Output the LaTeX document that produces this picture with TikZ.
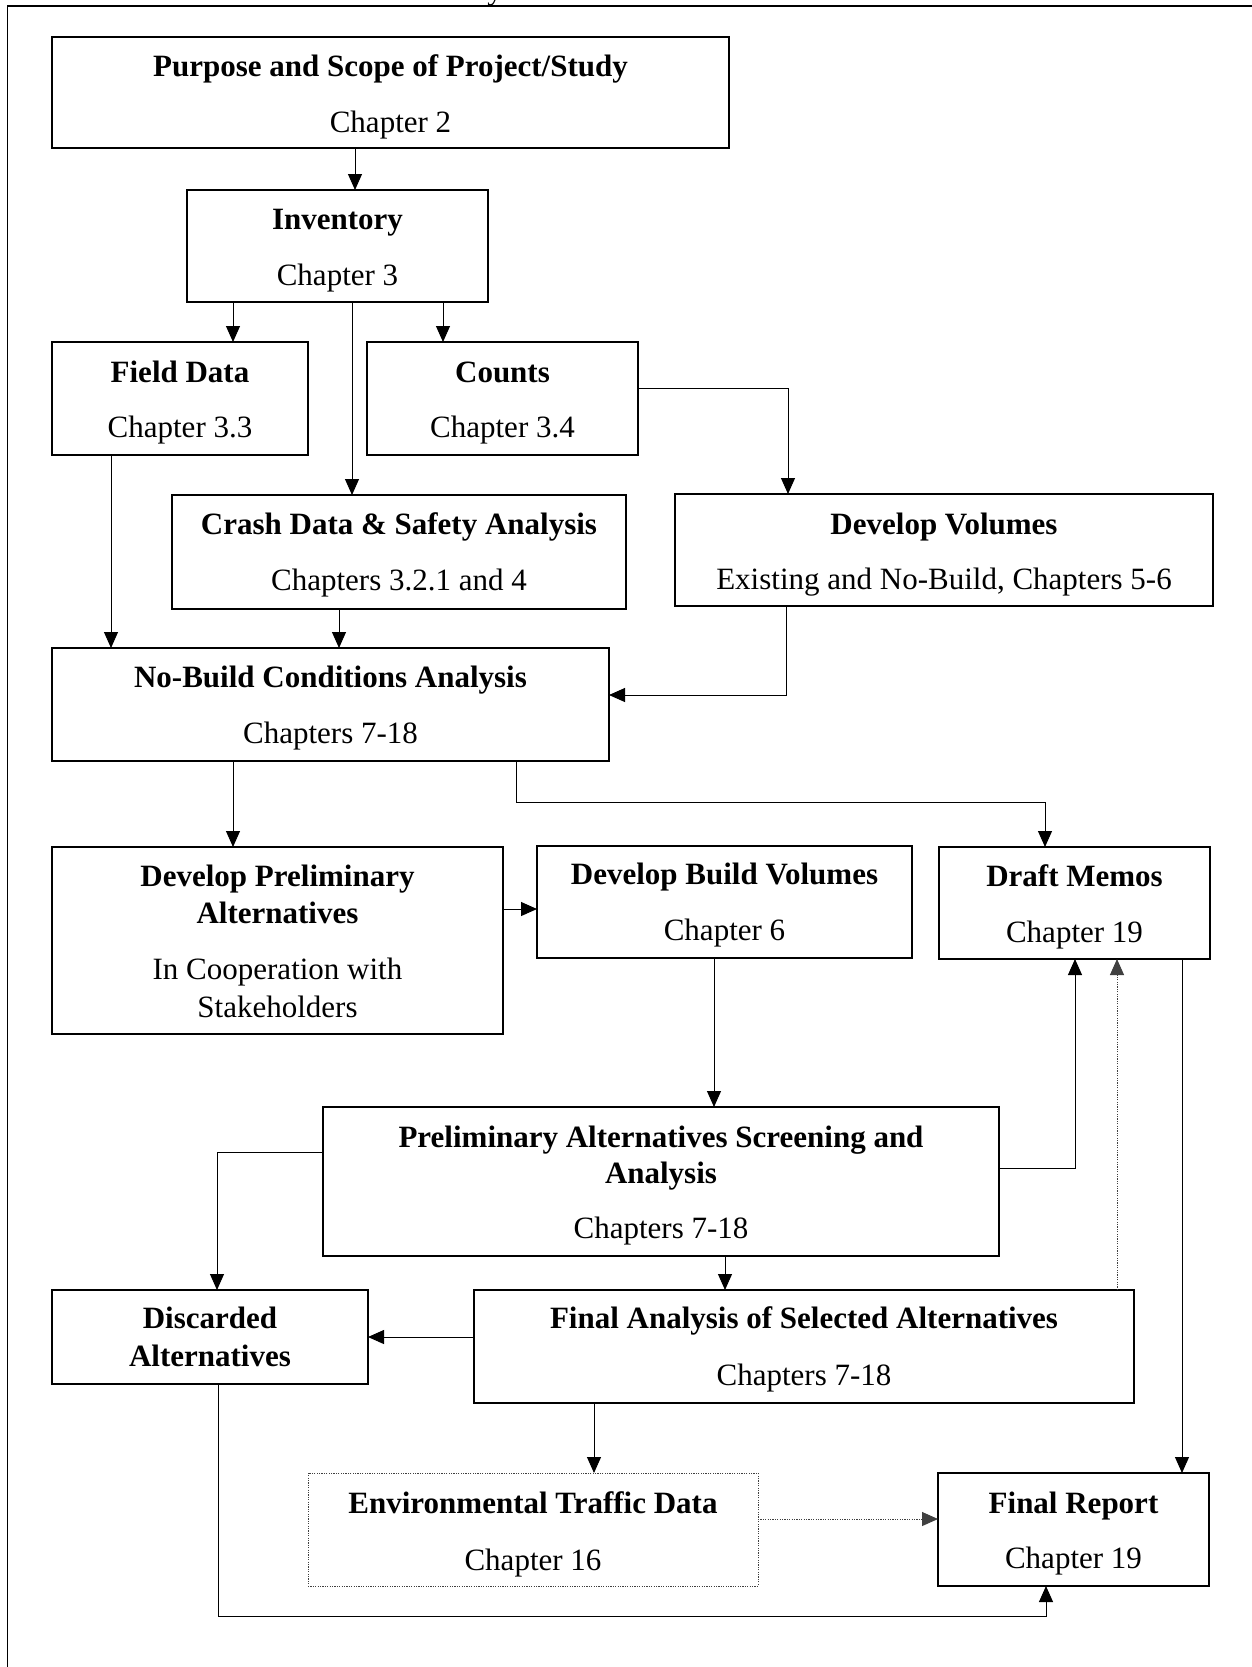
\documentclass[tikz,border=0pt]{standalone}
\usepackage{fontspec}
\setmainfont{Liberation Serif}
\usetikzlibrary{arrows.meta}
\newcommand\mkbox[6][]{%
  \pgfmathsetmacro\bxw{(#5-#3)*0.5}%
  \pgfmathsetmacro\bxh{(#6-#4)*0.5}%
  \node[boxst,#1,minimum width=\bxw pt,minimum height=\bxh pt] (#2) at ({(#3+#5)/2},{(#4+#6)/2}) {};}
\tikzset{
  boxst/.style={draw, rectangle, line width=0.6pt, inner sep=0pt, outer sep=0pt},
  dotbox/.style={draw=black!75, dash pattern=on 0.6pt off 0.6pt, line width=0.5pt},
  tb/.style={anchor=base, inner sep=0pt, font=\fontsize{15.5}{18.6}\selectfont\bfseries},
  tn/.style={anchor=base, inner sep=0pt, font=\fontsize{15.5}{18.6}\selectfont},
  arr/.style={-{Triangle[length=8pt,width=7pt]}, line width=0.5pt},
  dotln/.style={draw=black!75, dash pattern=on 0.6pt off 0.6pt},
}
\begin{document}
\begin{tikzpicture}[x=0.5pt,y=-0.5pt]
\useasboundingbox (0,0) rectangle (1252,1667);
% frame
\draw[line width=0.8pt] (7.5,1667) -- (7.5,6) -- (1252,6);
\begin{scope}
\clip (0,0) rectangle (1252,1667);
\node[tn] (cutoff) at (495,-1) {y};
\end{scope}
% boxes
\mkbox{purpose}{52}{37}{729}{148}
\mkbox{inventory}{187}{190}{488}{302}
\mkbox{field}{52}{342}{308}{455}
\mkbox{counts}{367}{342}{638}{455}
\mkbox{crash}{172}{495}{626}{609}
\mkbox{devvol}{675}{494}{1213}{606}
\mkbox{nobuild}{52}{648}{609}{761}
\mkbox{devprelim}{52}{847}{503}{1034}
\mkbox{devbuild}{537}{846}{912}{958}
\mkbox{draft}{939}{847}{1210}{959}
\mkbox{prelimscr}{323}{1107}{999}{1256}
\mkbox{discarded}{52}{1290}{368}{1384}
\mkbox{finalan}{474}{1290}{1134}{1403}
\mkbox[dotbox]{env}{308}{1473}{758}{1586}
\mkbox{finalrep}{938}{1473}{1209}{1586}
% texts
\node[tb] (purpose-t) at (purpose.center |- 0,76) {Purpose and Scope of Project/Study};
\node[tn] (purpose-c) at (purpose.center |- 0,132) {Chapter 2};
\node[tb] (inventory-t) at (inventory.center |- 0,229) {Inventory};
\node[tn] (inventory-c) at (inventory.center |- 0,285) {Chapter 3};
\node[tb] (field-t) at (field.center |- 0,382) {Field Data};
\node[tn] (field-c) at (field.center |- 0,437) {Chapter 3.3};
\node[tb] (counts-t) at (counts.center |- 0,382) {Counts};
\node[tn] (counts-c) at (counts.center |- 0,437) {Chapter 3.4};
\node[tb] (crash-t) at (crash.center |- 0,534) {Crash Data \& Safety Analysis};
\node[tn] (crash-c) at (crash.center |- 0,590) {Chapters 3.2.1 and 4};
\node[tb] (devvol-t) at (devvol.center |- 0,534) {Develop Volumes};
\node[tn] (devvol-c) at (devvol.center |- 0,589) {Existing and No-Build, Chapters 5-6};
\node[tb] (nobuild-t) at (nobuild.center |- 0,687) {No-Build Conditions Analysis};
\node[tn] (nobuild-c) at (nobuild.center |- 0,743) {Chapters 7-18};
\node[tb] (devprelim-t1) at (devprelim.center |- 0,886) {Develop Preliminary};
\node[tb] (devprelim-t2) at (devprelim.center |- 0,923) {Alternatives};
\node[tn] (devprelim-c1) at (devprelim.center |- 0,979) {In Cooperation with};
\node[tn] (devprelim-c2) at (devprelim.center |- 0,1017) {Stakeholders};
\node[tb] (devbuild-t) at (devbuild.center |- 0,884) {Develop Build Volumes};
\node[tn] (devbuild-c) at (devbuild.center |- 0,940) {Chapter 6};
\node[tb] (draft-t) at (draft.center |- 0,886) {Draft Memos};
\node[tn] (draft-c) at (draft.center |- 0,942) {Chapter 19};
\node[tb] (prelimscr-t1) at (prelimscr.center |- 0,1147) {Preliminary Alternatives Screening and};
\node[tb] (prelimscr-t2) at (prelimscr.center |- 0,1183) {Analysis};
\node[tn] (prelimscr-c) at (prelimscr.center |- 0,1238) {Chapters 7-18};
\node[tb] (discarded-t1) at (discarded.center |- 0,1328) {Discarded};
\node[tb] (discarded-t2) at (discarded.center |- 0,1366) {Alternatives};
\node[tb] (finalan-t) at (finalan.center |- 0,1328) {Final Analysis of Selected Alternatives};
\node[tn] (finalan-c) at (finalan.center |- 0,1385) {Chapters 7-18};
\node[tb] (env-t) at (env.center |- 0,1513) {Environmental Traffic Data};
\node[tn] (env-c) at (env.center |- 0,1570) {Chapter 16};
\node[tb] (finalrep-t) at (finalrep.center |- 0,1513) {Final Report};
\node[tn] (finalrep-c) at (finalrep.center |- 0,1568) {Chapter 19};
% connectors
\draw[arr] (purpose.south -| 355,0) -- (inventory.north -| 355,0);
\draw[arr] (inventory.south -| 233,0) -- (field.north -| 233,0);
\draw[arr] (inventory.south -| 443,0) -- (counts.north -| 443,0);
\draw[arr] (inventory.south -| 352,0) -- (crash.north -| 352,0);
\draw[arr] (counts.east |- 0,388) -| (devvol.north -| 788,0);
\draw[arr] (field.south -| 111,0) -- (nobuild.north -| 111,0);
\draw[arr] (crash.south -| 339,0) -- (nobuild.north -| 339,0);
\draw[arr] (devvol.south -| 786,0) |- (nobuild.east |- 0,695);
\draw[arr] (nobuild.south -| 233,0) -- (devprelim.north -| 233,0);
\draw[arr] (nobuild.south -| 516,0) -- (516,802) -| (draft.north -| 1045,0);
\draw[arr] (devprelim.east |- 0,909) -- (devbuild.west |- 0,909);
\draw[arr] (devbuild.south -| 714,0) -- (prelimscr.north -| 714,0);
\draw[arr] (prelimscr.east |- 0,1168) -| (draft.south -| 1075,0);
\draw[arr] (prelimscr.west |- 0,1152) -| (discarded.north -| 217,0);
\draw[arr] (prelimscr.south -| 725,0) -- (finalan.north -| 725,0);
\draw[arr] (finalan.west |- 0,1337) -- (discarded.east |- 0,1337);
\draw[arr, dotln] (finalan.north -| 1117,0) -- (draft.south -| 1117,0);
\draw[arr] (draft.south -| 1182,0) -- (finalrep.north -| 1182,0);
\draw[arr] (finalan.south -| 594,0) -- (env.north -| 594,0);
\draw[arr, dotln] (env.east |- 0,1519) -- (finalrep.west |- 0,1519);
\draw[arr] (discarded.south -| 218,0) -- (218,1616) -| (finalrep.south -| 1046,0);
\end{tikzpicture}
\end{document}
